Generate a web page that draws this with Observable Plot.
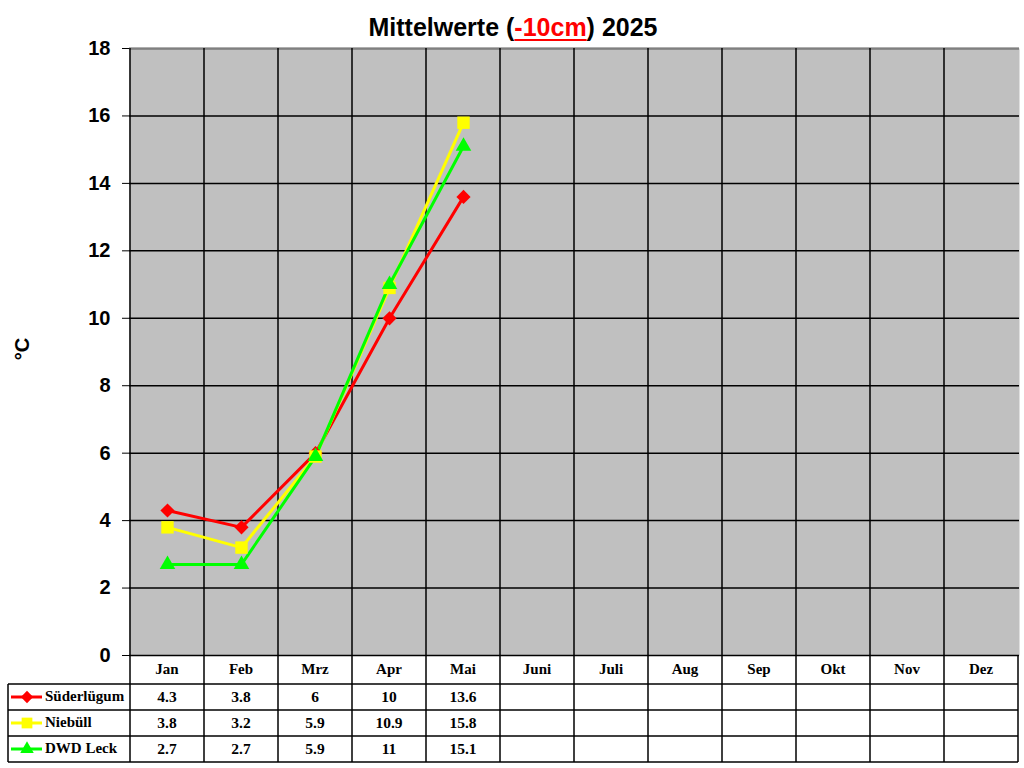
<!DOCTYPE html>
<html>
<head>
<meta charset="utf-8">
<script src="https://cdn.jsdelivr.net/npm/d3@7"></script>
<script src="https://cdn.jsdelivr.net/npm/@observablehq/plot@0.6"></script>
<style>
  body { margin: 0; background: #fff; width: 1024px; height: 768px; overflow: hidden; position: relative; }
  #title { position: absolute; top: 15px; left: 0; width: 1026px; text-align: center;
    font: bold 25px "Liberation Sans", Arial, sans-serif; line-height: 24px; color: #000; }
  #title .red { color: #ff0000; text-decoration: underline; text-decoration-thickness: 2px; text-underline-offset: 3px; }
  #chart { position: absolute; top: 40px; left: 0; }
  #chart svg { overflow: visible; }
</style>
</head>
<body>
<div id="title">Mittelwerte (<span class="red">-10cm</span>) 2025</div>
<div id="chart"></div>
<script>
// ---- data ----
const months = ["Jan", "Feb", "Mrz", "Apr", "Mai", "Juni", "Juli", "Aug", "Sep", "Okt", "Nov", "Dez"];
const seriesNames = ["Süderlügum", "Niebüll", "DWD Leck"];
const suederluegum = [4.3, 3.8, 6, 10, 13.6];
const niebuell = [3.8, 3.2, 5.9, 10.9, 15.8];
const dwdLeck = [2.7, 2.7, 5.9, 11, 15.1];
const yTicks = [0, 2, 4, 6, 8, 10, 12, 14, 16, 18];

// ---- styles ----
const colors = ["#ff0000", "#ffff00", "#00ff00"];
const symbols = ["diamond2", "square", "triangle"];
const radii = [6.4, 7.0, 5.8];
const d3Symbols = [d3.symbolDiamond2, d3.symbolSquare, d3.symbolTriangle];

const seriesValues = [suederluegum, niebuell, dwdLeck];
const table = seriesValues.map((vals, s) => vals.map((v, i) => ({series: seriesNames[s], month: months[i], value: v})));

const serif = '"Liberation Serif", "Times New Roman", serif';
const sans = '"Liberation Sans", Arial, sans-serif';

// custom mark: grid boundaries + data table below the plot
function tableMark(index, scales, values, dimensions) {
  const x = scales.x, y = scales.y;
  const step = x(months[1]) - x(months[0]);
  const right = x(months[months.length - 1]) + step / 2;
  const y0 = y(0), yTop = y(18);
  const legendLeft = 8;
  const headerH = 29, rowH = 26;
  const g = d3.create("svg:g");
  const bounds = months.map(m => x(m) - step / 2).concat([right]);
  bounds.forEach((bx, i) => {
    const last = i === bounds.length - 1;
    g.append("line").attr("x1", bx).attr("x2", bx)
      .attr("y1", last ? y0 : yTop).attr("y2", y0 + headerH + 3 * rowH)
      .attr("stroke", "#000").attr("stroke-width", 1.5);
  });
  for (let r = 0; r <= 3; r++) {
    const yy = y0 + headerH + r * rowH;
    g.append("line").attr("x1", legendLeft).attr("x2", right).attr("y1", yy).attr("y2", yy)
      .attr("stroke", "#000").attr("stroke-width", 1.5);
  }
  g.append("line").attr("x1", legendLeft).attr("x2", legendLeft)
    .attr("y1", y0 + headerH).attr("y2", y0 + headerH + 3 * rowH)
    .attr("stroke", "#000").attr("stroke-width", 1.5);
  months.forEach(m => {
    g.append("text").attr("x", x(m)).attr("y", y0 + headerH / 2 + 1)
      .attr("text-anchor", "middle").attr("dominant-baseline", "middle")
      .attr("font-family", serif).attr("font-weight", "bold").attr("font-size", 15).text(m);
  });
  table.forEach((row, s) => {
    const cy = y0 + headerH + s * rowH + rowH / 2 + 1;
    g.append("line").attr("x1", 11).attr("x2", 42).attr("y1", cy - 1).attr("y2", cy - 1)
      .attr("stroke", colors[s]).attr("stroke-width", 3);
    g.append("path").attr("transform", `translate(27,${cy - 1})`)
      .attr("d", d3.symbol(d3Symbols[s], Math.PI * radii[s] * radii[s] * 0.75)())
      .attr("fill", colors[s]);
    g.append("text").attr("x", 45).attr("y", cy)
      .attr("text-anchor", "start").attr("dominant-baseline", "middle")
      .attr("font-family", serif).attr("font-weight", "bold").attr("font-size", 15).text(seriesNames[s]);
    row.forEach(d => {
      g.append("text").attr("x", x(d.month)).attr("y", cy)
        .attr("text-anchor", "middle").attr("dominant-baseline", "middle")
        .attr("font-family", serif).attr("font-weight", "bold").attr("font-size", 15.5).text(String(d.value));
    });
  });
  return g.node();
}

const marks = [
  Plot.frame({fill: "#c0c0c0", stroke: null}),
  Plot.ruleY(yTicks, {stroke: "#000", strokeWidth: 1.5}),
  Plot.ruleY([18], {stroke: "#808080", strokeWidth: 1.5}),
  tableMark,
  Plot.axisY({ticks: yTicks, tickSize: 7, tickPadding: 12, fontSize: 20, fontWeight: "bold",
    fontFamily: sans, label: null, stroke: "#000"}),
  Plot.text(["°C"], {frameAnchor: "left", textAnchor: "middle", dx: -107, dy: -3, rotate: -90, fontSize: 20, fontWeight: "bold", fontFamily: sans, fill: "#000"})
];
table.forEach((rows, s) => {
  marks.push(Plot.line(rows, {x: "month", y: "value", stroke: colors[s], strokeWidth: 3}));
});
table.forEach((rows, s) => {
  marks.push(Plot.dot(rows, {x: "month", y: "value", fill: colors[s], stroke: null, symbol: symbols[s], r: radii[s]}));
});

const chart = Plot.plot({
  width: 1024,
  height: 728,
  marginTop: 8,
  marginBottom: 113,
  marginLeft: 129,
  marginRight: 5,
  x: {type: "point", domain: months, padding: 0.5, axis: null},
  y: {domain: [0, 18], axis: null},
  style: {background: "transparent", overflow: "visible"},
  marks
});
document.getElementById("chart").appendChild(chart);
</script>
</body>
</html>
